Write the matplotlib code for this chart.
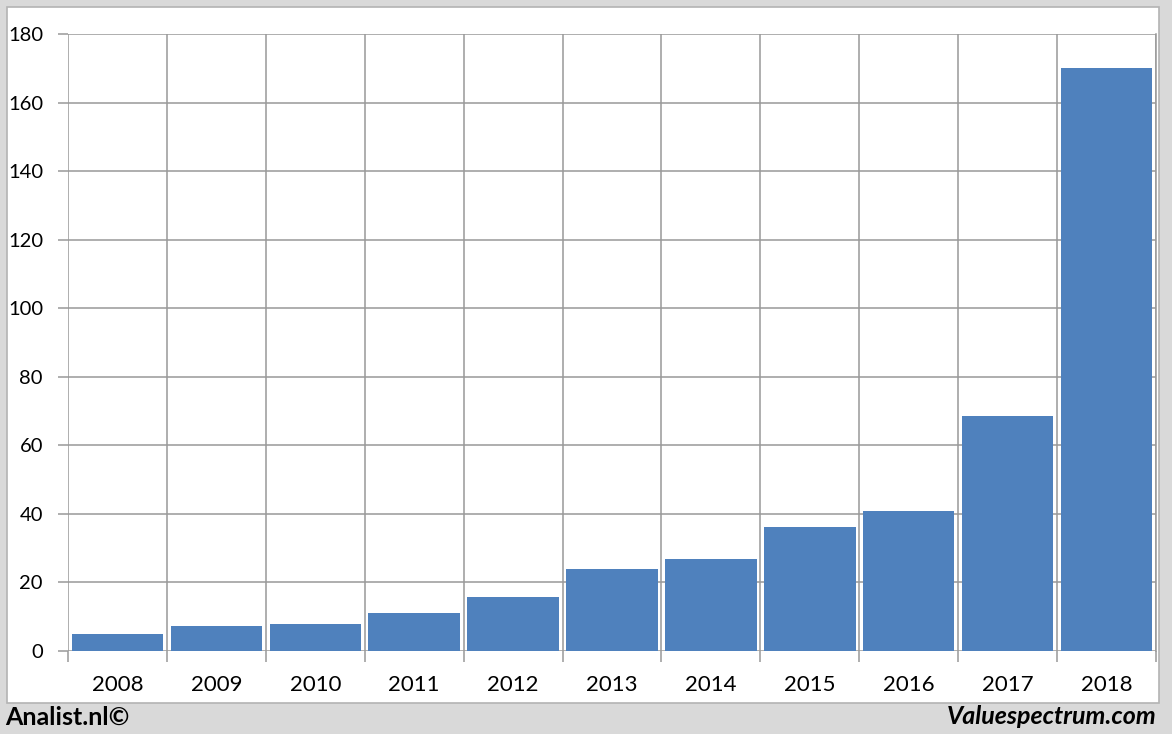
import numpy as np
import matplotlib.pyplot as plt
from matplotlib.patches import Rectangle

# data
years = ['2008', '2009', '2010', '2011', '2012', '2013', '2014', '2015', '2016', '2017', '2018']
values = [5.0, 7.4, 8.0, 11.1, 15.8, 24.0, 26.9, 36.1, 40.8, 68.5, 170.0]
y_ticks = [0, 20, 40, 60, 80, 100, 120, 140, 160, 180]

plt.rcParams['font.family'] = ['Lato', 'DejaVu Sans']

fig = plt.figure(figsize=(11.72, 7.34), dpi=100)
fig.patch.set_facecolor('#d9d9d9')

# white chart panel
W, H = 1172, 734
fig.patches.append(Rectangle((7 / W, (H - 703) / H), (1159 - 7) / W, (703 - 7) / H,
                             transform=fig.transFigure, facecolor='white',
                             edgecolor='#b3b3b3', linewidth=1.2, zorder=-10))

ax = fig.add_axes([68 / W, (H - 651) / H, (1156 - 68) / W, (651 - 34) / H])
ax.set_zorder(5)
ax.set_facecolor('white')

x = np.arange(len(years))
ax.bar(x, values, width=0.925, color='#4f81bd', zorder=3)

ax.set_xlim(-0.5, len(years) - 0.5)
ax.set_ylim(0, 180)
ax.set_yticks(y_ticks)
ax.set_xticks(x)
ax.set_xticklabels(years)
ax.set_xticks(np.arange(-0.5, len(years)), minor=True)

ax.grid(axis='y', which='major', color='#999999', linewidth=1.1, zorder=1)
ax.grid(axis='x', which='minor', color='#999999', linewidth=1.1, zorder=1)

ax.tick_params(axis='x', which='major', length=0, pad=17, labelsize=16)
ax.tick_params(axis='x', which='minor', length=8, width=1.1, color='#999999', direction='out')
ax.tick_params(axis='y', length=7, width=1.1, color='#999999', direction='out', pad=11, labelsize=14.5)

for s in ax.spines.values():
    s.set_visible(False)
ax.spines['right'].set_visible(True)
ax.spines['right'].set_color('#999999')
ax.spines['right'].set_linewidth(1.1)

fig.text(5 / W, 1 - 717 / H, 'Analist.nl©', fontsize=18, fontweight='bold',
         ha='left', va='center')
fig.text(1157 / W, 1 - 717 / H, 'Valuespectrum.com', fontsize=18, fontweight='bold',
         style='italic', ha='right', va='center')

fig.savefig('out.png', dpi=100, facecolor=fig.get_facecolor())
